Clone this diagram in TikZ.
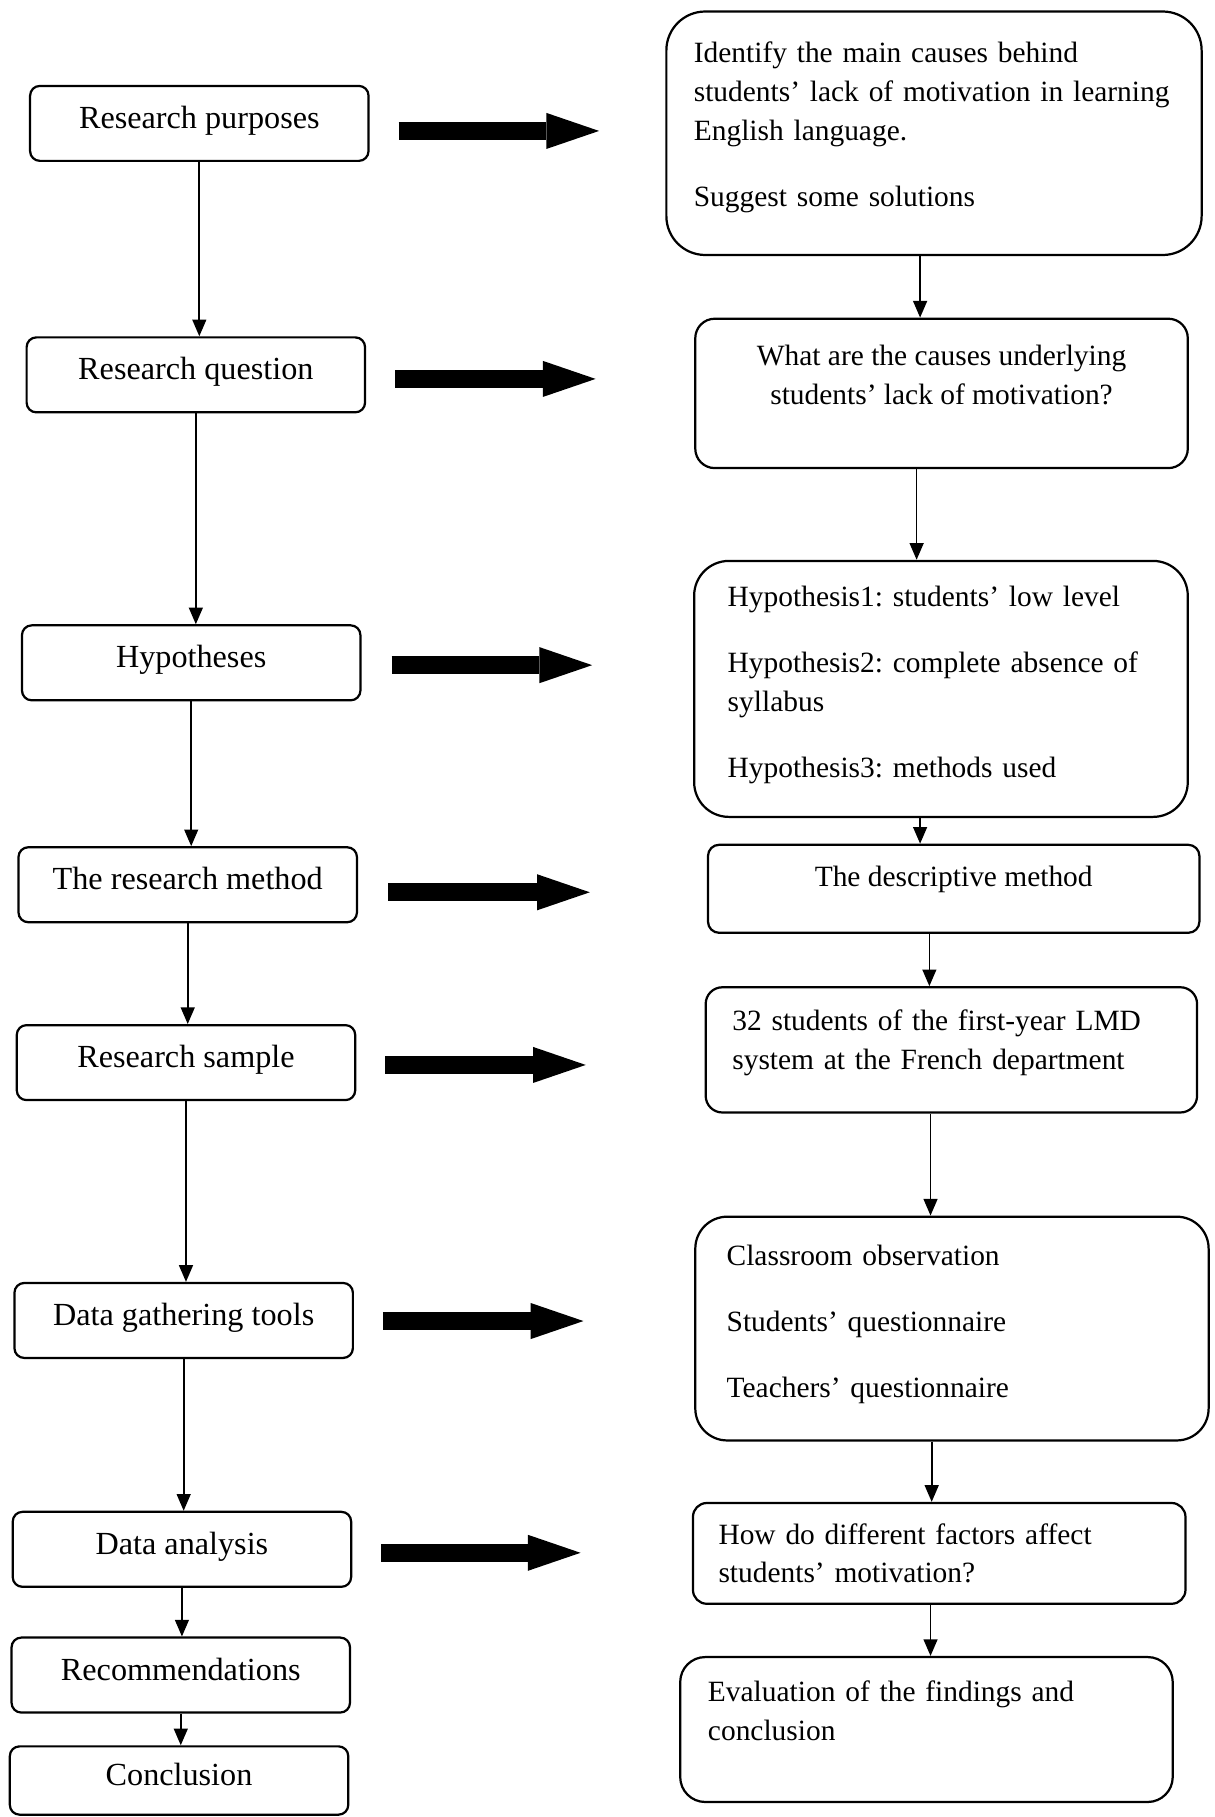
\documentclass[tikz,border=0pt]{standalone}
\usepackage{fontspec}
\setmainfont{Liberation Serif}
\usetikzlibrary{arrows.meta}
\frenchspacing

\begin{document}
\begin{tikzpicture}[x=0.4174pt,y=-0.4174pt,
  stage/.style={draw,line width=0.8pt,rounded corners=3.5pt,
    font=\fontsize{11.6}{14}\selectfont,text height=8pt,text depth=4.4pt,
    minimum width=121.9pt,minimum height=27pt,inner sep=0pt},
  detail/.style={draw,line width=0.8pt,inner sep=0pt,align=left,
    font=\fontsize{10.6}{14}\selectfont},
  link/.style={line width=0.6pt,-{Triangle[length=6pt,width=5pt]}},
  bigarrow/.style={line width=6.4pt,-{Triangle[length=19pt,width=13pt,line width=0pt]}},
]
\useasboundingbox (0,0) rectangle (1048,1568);

% left column: the steps of the study
\node (A1) at (172,106.5) [stage] {Research purposes};
\node (A2) at (169,323.5) [stage] {Research question};
\node (A3) at (165,572) [stage] {Hypotheses};
\node (A4) at (162,763.5) [stage] {The research method};
\node (A5) at (160.5,917) [stage] {Research sample};
\node (A6) at (158.5,1139.5) [stage] {Data gathering tools};
\node (A7) at (157,1337) [stage] {Data analysis};
\node (A8) at (156,1445.5) [stage] {Recommendations};
\node (A9) at (154.5,1536.5) [stage,minimum height=24.6pt] {Conclusion};

% right column: what each step holds
\node (B1) at (806,115) [detail,rounded corners=14pt,minimum width=192.8pt,
  minimum height=87.7pt,text width=173pt]
  {Identify the main causes behind\\ students’ lack of motivation in learning\\
   English language.\\[9.8pt] Suggest some solutions\rule[-6.7pt]{0pt}{0pt}};
\node (B2) at (812.5,339.5) [detail,align=center,rounded corners=7pt,
  minimum width=177.4pt,minimum height=53.8pt]
  {What are the causes underlying\\ students’ lack of motivation?\rule[-13.4pt]{0pt}{0pt}};
\node (B3) at (812,594.5) [detail,rounded corners=12.5pt,minimum width=177.8pt,
  minimum height=92.2pt,text width=153.6pt]
  {Hypothesis1: students’ low level\\[9.8pt] Hypothesis2: complete absence of\\
   syllabus\\[9.8pt] Hypothesis3: methods used\rule[-5pt]{0pt}{0pt}};
\node (B4) at (823,767) [detail,align=center,rounded corners=4pt,
  minimum width=177pt,minimum height=31.7pt]
  {The descriptive method\rule[-9.2pt]{0pt}{0pt}};
\node (B5) at (821,906) [detail,rounded corners=6pt,minimum width=177pt,
  minimum height=45.1pt,text width=157.8pt]
  {32 students of the first-year LMD\\ system at the French department\rule[-7.5pt]{0pt}{0pt}};
\node (B6) at (821.5,1146.5) [detail,rounded corners=11.5pt,minimum width=184.9pt,
  minimum height=80.6pt,text width=162.3pt]
  {Classroom observation\\[9.8pt] Students’ questionnaire\\[9.8pt]
   Teachers’ questionnaire\rule[-5.4pt]{0pt}{0pt}};
\node (B7) at (810.5,1340.5) [detail,rounded corners=5pt,minimum width=177.4pt,
  minimum height=36.3pt,text width=159pt]
  {How do different factors affect\\ students’ motivation?};
\node (B8) at (799.5,1492.5) [detail,rounded corners=9pt,minimum width=177.4pt,
  minimum height=52.2pt,text width=157.4pt]
  {Evaluation of the findings and\\ conclusion\rule[-13.8pt]{0pt}{0pt}};

% links down the left column
\draw[link] (A1.south) -- (A1.south |- A2.north);
\draw[link] (A2.south) -- (A2.south |- A3.north);
\draw[link] (A3.south) -- (A3.south |- A4.north);
\draw[link] (A4.south) -- (A4.south |- A5.north);
\draw[link] (A5.south) -- (A5.south |- A6.north);
\draw[link] (A6.south) -- (A6.south |- A7.north);
\draw[link] (A7.south) -- (A7.south |- A8.north);
\draw[link] (A8.south) -- (A8.south |- A9.north);

% links down the right column
\draw[link] ([shift={(-12,0)}]B1.south) coordinate (t) -- (t |- B2.north);
\draw[link] ([shift={(-21.5,0)}]B2.south) coordinate (t) -- (t |- B3.north);
\draw[link] ([shift={(-18,0)}]B3.south) coordinate (t) -- (t |- B4.north);
\draw[link] ([shift={(-21,0)}]B4.south) coordinate (t) -- (t |- B5.north);
\draw[link] ([shift={(-18,0)}]B5.south) coordinate (t) -- (t |- B6.north);
\draw[link] ([shift={(-17.5,0)}]B6.south) coordinate (t) -- (t |- B7.north);
\draw[link] ([shift={(-7.5,0)}]B7.south) coordinate (t) -- (t |- B8.north);

% thick arrows across
\draw[bigarrow] ([shift={(25,6.5)}]A1.east) -- ++(173,0);
\draw[bigarrow] ([shift={(25,3.5)}]A2.east) -- ++(173,0);
\draw[bigarrow] ([shift={(26,2)}]A3.east) -- ++(173,0);
\draw[bigarrow] ([shift={(26,6.5)}]A4.east) -- ++(174,0);
\draw[bigarrow] ([shift={(25,2)}]A5.east) -- ++(173,0);
\draw[bigarrow] ([shift={(25,0.5)}]A6.east) -- ++(173,0);
\draw[bigarrow] ([shift={(25,3)}]A7.east) -- ++(172,0);
\end{tikzpicture}
\end{document}
